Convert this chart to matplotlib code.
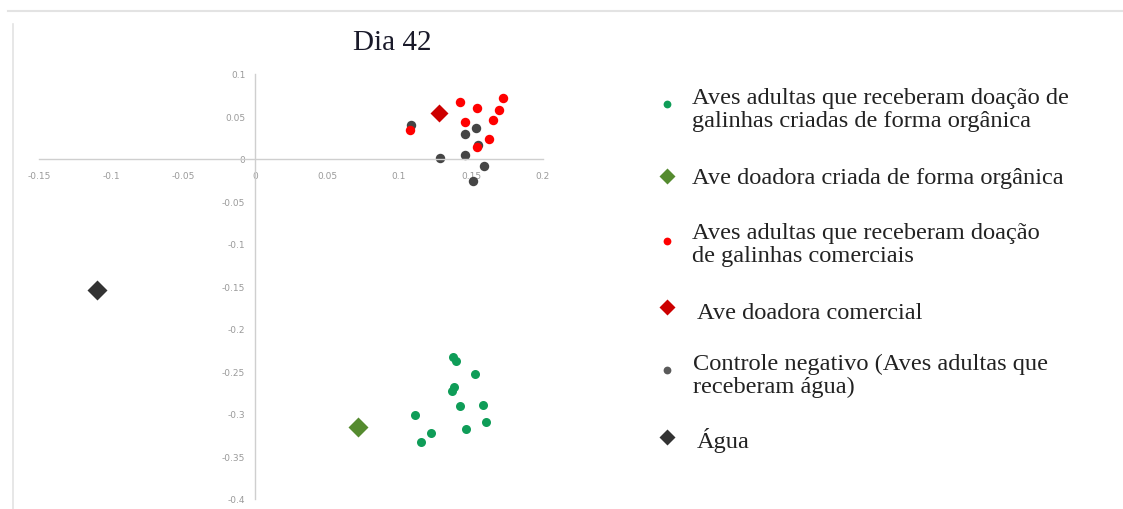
import matplotlib
matplotlib.use("Agg")
import matplotlib.pyplot as plt
from matplotlib.lines import Line2D

# Scores (eixo 1, eixo 2)
organica_x = [0.1377, 0.1396, 0.1526, 0.1382, 0.1366, 0.1424, 0.1586, 0.1111, 0.1604, 0.1465, 0.1220, 0.1151]
organica_y = [-0.233, -0.238, -0.253, -0.268, -0.273, -0.291, -0.289, -0.301, -0.309, -0.318, -0.322, -0.333]

doadora_organica_x = [0.0715]
doadora_organica_y = [-0.315]

comercial_x = [0.1424, 0.1544, 0.1725, 0.1697, 0.1650, 0.1458, 0.1625, 0.1540, 0.1076]
comercial_y = [0.0667, 0.0596, 0.0714, 0.0576, 0.0459, 0.0439, 0.0235, 0.0137, 0.0341]

doadora_comercial_x = [0.128]
doadora_comercial_y = [0.054]

controle_x = [0.1083, 0.1535, 0.1458, 0.1546, 0.1285, 0.1456, 0.1593, 0.1512]
controle_y = [0.0404, 0.0360, 0.0294, 0.0169, 0.0008, 0.0047, -0.0078, -0.0259]

agua_x = [-0.110]
agua_y = [-0.154]

x_ticks = [-0.15, -0.1, -0.05, 0, 0.05, 0.1, 0.15, 0.2]
x_tick_labels = ["-0.15", "-0.1", "-0.05", "0", "0.05", "0.1", "0.15", "0.2"]
y_ticks = [0.1, 0.05, 0, -0.05, -0.1, -0.15, -0.2, -0.25, -0.3, -0.35, -0.4]
y_tick_labels = ["0.1", "0.05", "0", "-0.05", "-0.1", "-0.15", "-0.2", "-0.25", "-0.3", "-0.35", "-0.4"]

legend_labels = [
    "Aves adultas que receberam doação de\ngalinhas criadas de forma orgânica",
    "Ave doadora criada de forma orgânica",
    "Aves adultas que receberam doação\nde galinhas comerciais",
    "Ave doadora comercial",
    "Controle negativo (Aves adultas que\nreceberam água)",
    "Água",
]

COLOR_ORG = "#0f9d58"
COLOR_ORG_DONOR = "#558b2f"
COLOR_COM = "#ff0000"
COLOR_COM_DONOR = "#cc0000"
COLOR_CTRL = "#454545"
COLOR_AGUA = "#333333"
SERIF = ["Liberation Serif", "DejaVu Serif"]

fig = plt.figure(figsize=(11.23, 5.10), dpi=100)
W, H = 1123, 510

# page decoration (screenshot borders)
fig.add_artist(Line2D([8 / W, 1], [1 - 12 / H, 1 - 12 / H], color="#e3e3e3", lw=1.5))
fig.add_artist(Line2D([13 / W, 13 / W], [0, 1 - 25 / H], color="#e3e3e3", lw=1.2))

ax = fig.add_axes([39 / W, 10 / H, 504 / W, 425 / H])
ax.set_xlim(-0.15, 0.2)
ax.set_ylim(-0.4, 0.1)
ax.patch.set_alpha(0)

for side in ["top", "right"]:
    ax.spines[side].set_visible(False)
ax.spines["left"].set_position(("data", 0))
ax.spines["bottom"].set_position(("data", 0))
for side in ["left", "bottom"]:
    ax.spines[side].set_color("#cfcfcf")
    ax.spines[side].set_linewidth(1.0)

ax.set_xticks(x_ticks)
ax.set_xticklabels(x_tick_labels)
ax.set_yticks(y_ticks)
ax.set_yticklabels(y_tick_labels)
ax.tick_params(axis="both", length=0, labelsize=6.5, labelcolor="#9a9a9a")
ax.tick_params(axis="x", pad=9)
ax.tick_params(axis="y", pad=7)

ax.plot(organica_x, organica_y, "o", ms=6.5, color=COLOR_ORG, mec="none")
ax.plot(doadora_organica_x, doadora_organica_y, "D", ms=10.5, color=COLOR_ORG_DONOR, mec="none")
ax.plot(controle_x, controle_y, "o", ms=6.8, color=COLOR_CTRL, mec="none")
ax.plot(comercial_x, comercial_y, "o", ms=6.8, color=COLOR_COM, mec="none")
ax.plot(doadora_comercial_x, doadora_comercial_y, "D", ms=9, color=COLOR_COM_DONOR, mec="none")
ax.plot(agua_x, agua_y, "D", ms=10.5, color=COLOR_AGUA, mec="none")

fig.text(392 / W, 1 - 43 / H, "Dia 42", ha="center", va="center", fontsize=21,
         family=SERIF, color="#1a1a2a")

# legend drawn as text beside the chart, like in the document
leg = fig.add_axes([0, 0, 1, 1])
leg.set_xlim(0, W)
leg.set_ylim(H, 0)
leg.axis("off")

leg_markers = ["o", "D", "o", "D", "o", "D"]
leg_sizes = [5.6, 8, 5.6, 8, 5.6, 8]
leg_colors = [COLOR_ORG, COLOR_ORG_DONOR, COLOR_COM, COLOR_COM_DONOR, "#5a5a5a", COLOR_AGUA]
marker_y = [105, 177, 242, 308, 371, 438]
text_x = [692, 692, 692, 697, 693, 697]
text_y = [110, 179, 245, 314, 376, 441]

for i, label in enumerate(legend_labels):
    leg.plot([667], [marker_y[i]], leg_markers[i], ms=leg_sizes[i], color=leg_colors[i], mec="none")
    leg.text(text_x[i], text_y[i], label, ha="left", va="center", fontsize=17.6,
             family=SERIF, color="#222222", linespacing=1.12)

fig.savefig("out.png", dpi=100)
